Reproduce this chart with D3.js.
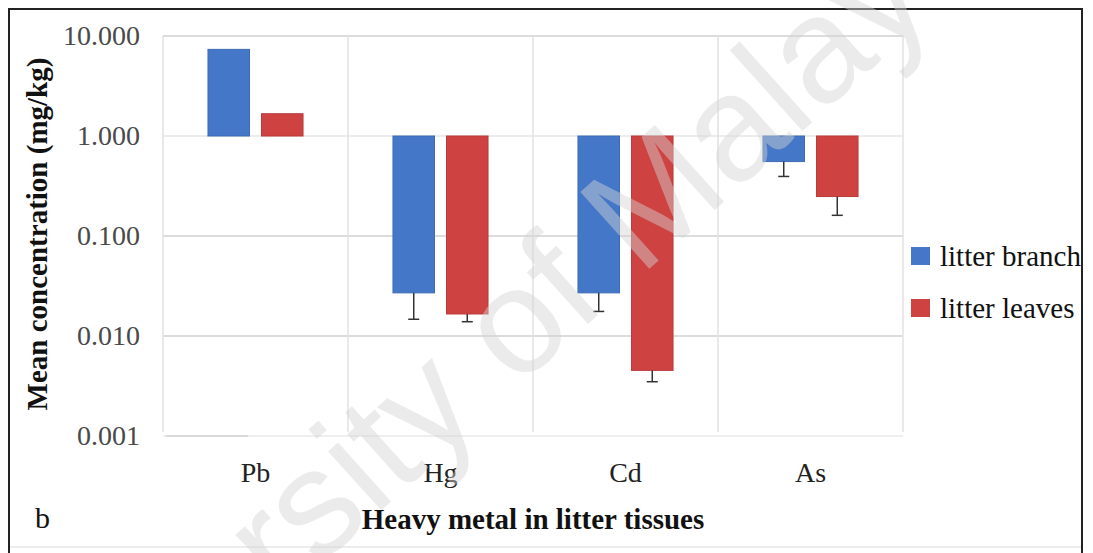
<!DOCTYPE html>
<html>
<head>
<meta charset="utf-8">
<script src="https://cdn.jsdelivr.net/npm/d3@7"></script>
<style>
  body { margin: 0; background: #fff; }
  svg { display: block; font-family: "Liberation Serif", "Times New Roman", serif; }
</style>
</head>
<body>
<script>
// Chart data
const metals = ["Pb", "Hg", "Cd", "As"];
const seriesNames = ["litter branch", "litter leaves"];
const branchMeans = [7.35, 0.027, 0.027, 0.555];
const leavesMeans = [1.67, 0.0166, 0.00453, 0.248];
// lower end of the error bars (null = not shown)
const branchLow = [null, 0.0147, 0.0176, 0.394];
const leavesLow = [null, 0.0139, 0.00349, 0.161];
const tickValues = [0.001, 0.01, 0.1, 1, 10];
const seriesColors = ["#4577c8", "#cf4242"];

const svgWidth = 1093;
const svgHeight = 553;

const margin = { top: 36, right: 190, bottom: 117, left: 163 };
const chartWidth = svgWidth - margin.left - margin.right;
const chartHeight = svgHeight - margin.top - margin.bottom;

let svg = d3.select("body")
  .append("svg")
  .attr("width", svgWidth)
  .attr("height", svgHeight);

// outer frame
svg.append("rect")
  .attr("x", 9).attr("y", 9)
  .attr("width", 1073).attr("height", 600)
  .attr("fill", "none")
  .attr("stroke", "#222")
  .attr("stroke-width", 2);

svg.append("line")
  .attr("x1", 10).attr("x2", 1081)
  .attr("y1", 547).attr("y2", 547)
  .attr("stroke", "#e6e6e6").attr("stroke-width", 1.5);

let chartGroup = svg.append("g")
  .attr("transform", `translate(${margin.left}, ${margin.top})`);

// scales
let xScale = d3.scaleBand()
  .domain(metals)
  .range([0, chartWidth]);

let innerScale = d3.scaleBand()
  .domain(seriesNames)
  .range([0, xScale.bandwidth()])
  .paddingInner(0.224)
  .paddingOuter(0.84);

let yScale = d3.scaleLog()
  .domain([0.001, 10])
  .range([chartHeight, 0]);

// gridlines
chartGroup.append("g")
  .selectAll("line")
  .data(tickValues)
  .enter()
  .append("line")
  .attr("x1", 0).attr("x2", chartWidth)
  .attr("y1", d => yScale(d)).attr("y2", d => yScale(d))
  .attr("stroke", d => d === 1 ? "#ececec" : (d === 0.001 ? "#efefef" : "#dcdcdc"))
  .attr("stroke-width", 2);

chartGroup.append("g")
  .selectAll("line")
  .data(metals.concat(["end"]))
  .enter()
  .append("line")
  .attr("x1", (d, i) => i * xScale.step())
  .attr("x2", (d, i) => i * xScale.step())
  .attr("y1", 0).attr("y2", chartHeight - 4)
  .attr("stroke", "#e2e2e2")
  .attr("stroke-width", 1.5);

// short axis segment under Pb
chartGroup.append("line")
  .attr("x1", 3).attr("x2", xScale.step() * 0.46)
  .attr("y1", yScale(0.001)).attr("y2", yScale(0.001))
  .attr("stroke", "#c4c4c4").attr("stroke-width", 1.2);

// y tick labels
let leftAxis = d3.axisLeft(yScale)
  .tickValues(tickValues)
  .tickFormat(d3.format(".3f"))
  .tickSize(0)
  .tickPadding(23);

let yAxisG = chartGroup.append("g").call(leftAxis);
yAxisG.select(".domain").remove();
yAxisG.selectAll("text")
  .attr("font-family", "Liberation Serif")
  .attr("font-size", 28)
  .attr("fill", "#4a4a4a");

// x category labels
let bottomAxis = d3.axisBottom(xScale).tickSize(0).tickPadding(26);
let xAxisG = chartGroup.append("g")
  .attr("transform", `translate(0, ${chartHeight})`)
  .call(bottomAxis);
xAxisG.select(".domain").remove();
xAxisG.selectAll("text")
  .attr("font-family", "Liberation Serif")
  .attr("font-size", 28)
  .attr("fill", "#222");

// bars
let seriesData = seriesNames.map((name, s) => ({
  name: name,
  color: seriesColors[s],
  values: metals.map((m, i) => ({
    metal: m,
    mean: s === 0 ? branchMeans[i] : leavesMeans[i],
    low: s === 0 ? branchLow[i] : leavesLow[i]
  }))
}));

let seriesGroups = chartGroup.selectAll(".series")
  .data(seriesData)
  .enter()
  .append("g")
  .attr("class", "series");

seriesGroups.selectAll("rect")
  .data(d => d.values.map(v => Object.assign({ name: d.name, color: d.color }, v)))
  .enter()
  .append("rect")
  .attr("x", d => xScale(d.metal) + innerScale(d.name))
  .attr("width", innerScale.bandwidth())
  .attr("y", d => Math.min(yScale(d.mean), yScale(1)))
  .attr("height", d => Math.abs(yScale(d.mean) - yScale(1)))
  .attr("fill", d => d.color)
  .attr("stroke", d => d3.color(d.color).darker(0.3))
  .attr("stroke-width", 1);

// error bars (lower side only)
let errData = [];
seriesData.forEach(s => s.values.forEach(v => {
  if (v.low !== null) errData.push(Object.assign({ name: s.name }, v));
}));

let errG = chartGroup.append("g");
errG.selectAll(".stem")
  .data(errData)
  .enter()
  .append("line")
  .attr("x1", d => xScale(d.metal) + innerScale(d.name) + innerScale.bandwidth() / 2)
  .attr("x2", d => xScale(d.metal) + innerScale(d.name) + innerScale.bandwidth() / 2)
  .attr("y1", d => yScale(d.mean))
  .attr("y2", d => yScale(d.low))
  .attr("stroke", "#333")
  .attr("stroke-width", 1.5);

errG.selectAll(".cap")
  .data(errData)
  .enter()
  .append("line")
  .attr("x1", d => xScale(d.metal) + innerScale(d.name) + innerScale.bandwidth() / 2 - 5.5)
  .attr("x2", d => xScale(d.metal) + innerScale(d.name) + innerScale.bandwidth() / 2 + 5.5)
  .attr("y1", d => yScale(d.low))
  .attr("y2", d => yScale(d.low))
  .attr("stroke", "#333")
  .attr("stroke-width", 1.5);

// axis titles
svg.append("text")
  .attr("transform", "translate(47, 234) rotate(-90)")
  .attr("text-anchor", "middle")
  .attr("font-family", "Liberation Serif")
  .attr("font-weight", "bold")
  .attr("font-size", 29)
  .attr("fill", "#111")
  .text("Mean concentration (mg/kg)");

svg.append("text")
  .attr("x", margin.left + chartWidth / 2)
  .attr("y", 529)
  .attr("text-anchor", "middle")
  .attr("font-family", "Liberation Serif")
  .attr("font-weight", "bold")
  .attr("font-size", 29)
  .attr("fill", "#111")
  .text("Heavy metal in litter tissues");

svg.append("text")
  .attr("x", 35)
  .attr("y", 528)
  .attr("font-family", "Liberation Serif")
  .attr("font-size", 30)
  .attr("fill", "#111")
  .text("b");

// legend
let legend = svg.append("g")
  .attr("transform", "translate(911, 247)");

let legendItems = legend.selectAll("g")
  .data(seriesNames)
  .enter()
  .append("g")
  .attr("transform", (d, i) => `translate(0, ${i * 52})`);

legendItems.append("rect")
  .attr("width", 19).attr("height", 18)
  .attr("fill", (d, i) => seriesColors[i]);

legendItems.append("text")
  .attr("x", 29)
  .attr("y", 19)
  .attr("font-family", "Liberation Serif")
  .attr("font-size", 29)
  .attr("fill", "#111")
  .text(d => d);

// faint watermark
svg.append("text")
  .attr("transform", "translate(346, 542) rotate(-42)")
  .attr("x", -471)
  .attr("font-family", "Liberation Sans")
  .attr("font-size", 150)
  .attr("fill", "#d4d4d4")
  .attr("opacity", 0.45)
  .text("University of Malaya");
</script>
</body>
</html>
